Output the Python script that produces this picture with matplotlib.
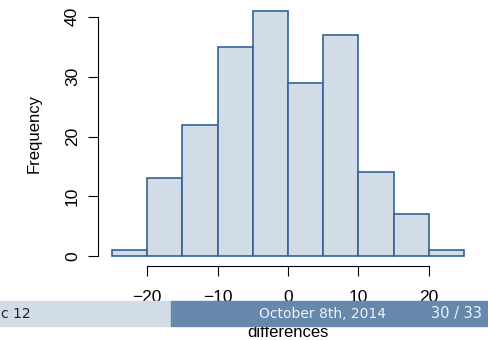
import matplotlib.pyplot as plt
from matplotlib.patches import Rectangle
import numpy as np

# histogram bins and counts
bin_edges = [-25, -20, -15, -10, -5, 0, 5, 10, 15, 20, 25]
counts = [1, 13, 22, 35, 41, 29, 37, 14, 7, 1]
xticks = [-20, -10, 0, 10, 20]
yticks = [0, 10, 20, 30, 40]

fill = '#d2dce6'
edge = '#33629a'

plt.rcParams['font.family'] = ['Liberation Sans', 'DejaVu Sans']

fig = plt.figure(figsize=(4.89, 3.40), dpi=100)
ax = fig.add_axes([0.2004, 0.2176, 0.7771, 0.7794])

lefts = np.array(bin_edges[:-1])
widths = np.diff(bin_edges)
ax.bar(lefts, counts, width=widths, align='edge', color=fill,
       edgecolor=edge, linewidth=1.2)

ax.set_xlim(-27, 27)
ax.set_ylim(-1.64, 42.64)

for s in ['top', 'right']:
    ax.spines[s].set_visible(False)
ax.spines['left'].set_bounds(0, 40)
ax.spines['bottom'].set_bounds(-20, 20)

ax.set_xticks(xticks)
ax.set_xticklabels(['\u221220', '\u221210', '0', '10', '20'])
ax.set_yticks(yticks)
ax.set_yticklabels([str(v) for v in yticks], rotation=90, va='center')
ax.tick_params(axis='x', length=7, pad=10, labelsize=12.5)
ax.tick_params(axis='y', length=7, pad=6, labelsize=12.5)

ax.set_ylabel('Frequency', fontsize=12, labelpad=17)
ax.set_xlabel('differences', fontsize=12, labelpad=15)

# beamer footer bar
fig.patches.append(Rectangle((0, 14 / 340), 171 / 489, 25 / 340,
                             transform=fig.transFigure, color='#d2dce6', zorder=5))
fig.patches.append(Rectangle((171 / 489, 14 / 340), 318 / 489, 25 / 340,
                             transform=fig.transFigure, color='#6688ad', zorder=5))
fig.text(0.002, 26.5 / 340, 'c 12', ha='left', va='center',
         fontsize=10, color='#222222', family='DejaVu Sans', zorder=6)
fig.text(323 / 489, 26.5 / 340, 'October 8th, 2014', ha='center', va='center',
         fontsize=10, color='#eef2f6', family='DejaVu Sans', zorder=6)
fig.text(456 / 489, 26.5 / 340, '30 / 33', ha='center', va='center',
         fontsize=10.5, color='#eef2f6', family='DejaVu Sans', zorder=6)

fig.savefig('out.png', dpi=100)
